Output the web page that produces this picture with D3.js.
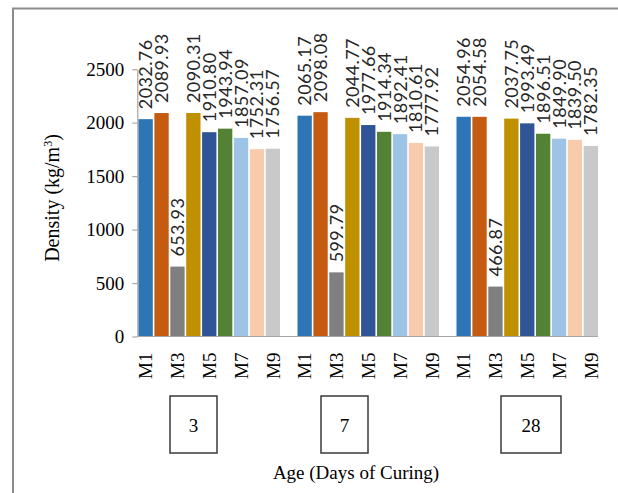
<!DOCTYPE html>
<html>
<head>
<meta charset="utf-8">
<script src="https://cdn.jsdelivr.net/npm/d3@7"></script>
<style>
  html, body { margin: 0; padding: 0; background: #fff; }
  svg { display: block; }
</style>
</head>
<body>
<svg id="chart" width="618" height="493"></svg>
<script>
// Curing ages (days) and mix designations
const ages = ["3", "7", "28"];
const mixes = ["M1", "M2", "M3", "M4", "M5", "M6", "M7", "M8", "M9"];

// Density (kg/m³) per mix, one array per curing age
const density3 = [2032.76, 2089.93, 653.93, 2090.31, 1910.80, 1943.94, 1857.09, 1752.31, 1756.57];
const density7 = [2065.17, 2098.08, 599.79, 2044.77, 1977.66, 1914.34, 1892.41, 1810.61, 1777.92];
const density28 = [2054.96, 2054.58, 466.87, 2037.75, 1993.49, 1896.51, 1849.90, 1839.50, 1782.35];

const yTicks = [0, 500, 1000, 1500, 2000, 2500];
const xTickLabels = ["M1", "M3", "M5", "M7", "M9"];

const mixColors = ["#2e75b6", "#c55a11", "#7f7f7f", "#bf9000", "#2f5597",
                   "#548235", "#9dc3e6", "#f8cbad", "#c9c9c9"];

const seriesByAge = [density3, density7, density28];

// Flat list of bars; each age group is followed by one empty slot
const slots = [];
const bars = [];
ages.forEach((age, g) => {
  mixes.forEach((m, i) => {
    const key = age + "|" + m;
    slots.push(key);
    bars.push({ key, age, mix: m, idx: i, value: seriesByAge[g][i] });
  });
  if (g < ages.length - 1) slots.push(age + "|gap");
});

const svg = d3.select("#chart");
const serif = "'Liberation Serif', 'Times New Roman', serif";
const sans = "Lato, 'Open Sans', sans-serif";

// Outer frame (only top and left edges fall inside the page)
svg.append("path")
  .attr("d", "M13,493 V8.5 H618")
  .attr("fill", "none")
  .attr("stroke", "#8c8c8c")
  .attr("stroke-width", 2);

const plotLeft = 137.3;
const x = d3.scaleBand().domain(slots).range([138.5, 598]).paddingInner(0.1).paddingOuter(0);
const y = d3.scaleLinear().domain([0, 2500]).range([336.5, 69.2]);

// Y axis
const yAxis = svg.append("g")
  .attr("transform", `translate(${plotLeft},0)`)
  .call(d3.axisLeft(y).tickValues(yTicks).tickFormat(d3.format("d"))
    .tickSize(5).tickPadding(8).tickSizeOuter(0));
yAxis.select(".domain").attr("stroke", "#a6a6a6").attr("stroke-width", 1.2);
yAxis.selectAll(".tick line").attr("stroke", "#a6a6a6").attr("stroke-width", 1.2);
yAxis.selectAll(".tick text")
  .attr("font-family", serif)
  .attr("font-size", 19)
  .attr("fill", "#000");

// Bars
svg.append("g").selectAll("rect")
  .data(bars)
  .join("rect")
  .attr("x", d => x(d.key))
  .attr("y", d => y(d.value))
  .attr("width", x.bandwidth())
  .attr("height", d => y(0) - y(d.value))
  .attr("fill", d => mixColors[d.idx]);

// X axis baseline
svg.append("line")
  .attr("x1", plotLeft).attr("x2", 598)
  .attr("y1", y(0)).attr("y2", y(0))
  .attr("stroke", "#a6a6a6")
  .attr("stroke-width", 1.2);

// Value labels above each bar
svg.append("g").selectAll("text")
  .data(bars)
  .join("text")
  .attr("transform", d => `translate(${x(d.key) + x.bandwidth() / 2},${y(d.value) - 10}) rotate(-90)`)
  .attr("dy", "0.36em")
  .attr("text-anchor", "start")
  .attr("font-family", sans)
  .attr("font-size", 18)
  .attr("letter-spacing", 0.4)
  .attr("fill", "#262626")
  .text(d => d.value.toFixed(2));

// Mix labels under the axis
svg.append("g").selectAll("text")
  .data(bars.filter(d => xTickLabels.includes(d.mix)))
  .join("text")
  .attr("transform", d => `translate(${x(d.key) + x.bandwidth() / 2},${y(0) + 16}) rotate(-90)`)
  .attr("dy", "0.35em")
  .attr("text-anchor", "end")
  .attr("font-family", serif)
  .attr("font-size", 19)
  .attr("fill", "#000")
  .text(d => d.mix);

// Boxed age labels beneath each group
const ageBoxes = [
  { age: "3", left: 170, width: 47 },
  { age: "7", left: 321, width: 47 },
  { age: "28", left: 501, width: 60 }
];
const boxTop = 396, boxH = 57;
const boxG = svg.append("g").selectAll("g").data(ageBoxes).join("g");
boxG.append("rect")
  .attr("x", d => d.left)
  .attr("y", boxTop)
  .attr("width", d => d.width)
  .attr("height", boxH)
  .attr("fill", "#fff")
  .attr("stroke", "#3a3a3a")
  .attr("stroke-width", 1.5);
boxG.append("text")
  .attr("x", d => d.left + d.width / 2)
  .attr("y", boxTop + boxH / 2)
  .attr("dy", "0.4em")
  .attr("text-anchor", "middle")
  .attr("font-family", serif)
  .attr("font-size", 19)
  .attr("fill", "#000")
  .text(d => d.age);

// Axis titles
svg.append("text")
  .attr("transform", "translate(52,198) rotate(-90)")
  .attr("dy", "0.35em")
  .attr("text-anchor", "middle")
  .attr("font-family", serif)
  .attr("font-size", 20)
  .attr("fill", "#000")
  .html("Density (kg/m<tspan dy='-7' font-size='12'>3</tspan><tspan dy='7'>)</tspan>");

svg.append("text")
  .attr("x", 356)
  .attr("y", 472)
  .attr("dy", "0.35em")
  .attr("text-anchor", "middle")
  .attr("font-family", serif)
  .attr("font-size", 19)
  .attr("fill", "#000")
  .text("Age (Days of Curing)");
</script>
</body>
</html>
